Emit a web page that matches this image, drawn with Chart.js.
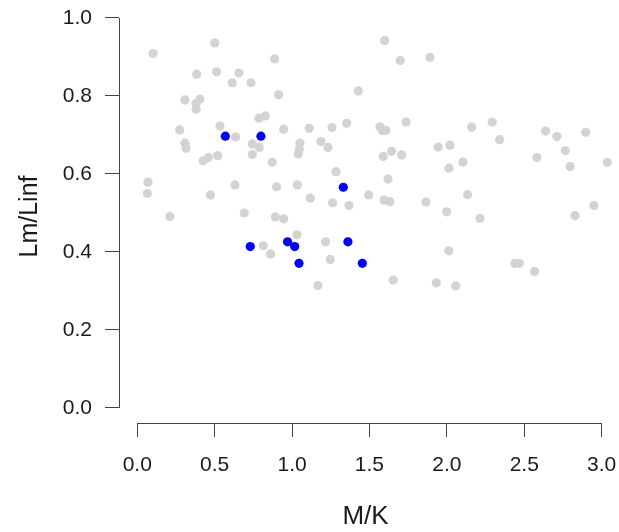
<!DOCTYPE html>
<html lang="en">
<head>
  <meta charset="UTF-8" />
  <title>Lm/Linf vs M/K</title>
  <script src="https://cdn.jsdelivr.net/npm/chart.js"></script>
  <style>
    html, body { margin: 0; padding: 0; background: #fff; }
    #wrap { width: 619px; height: 532px; }
  </style>
</head>
<body>
  <div id="wrap">
    <canvas id="grafico" width="619" height="532"></canvas>
  </div>

  <script>
    // tick labels
    const xTicks = [0, 0.5, 1.0, 1.5, 2.0, 2.5, 3.0];
    const yTicks = [0, 0.2, 0.4, 0.6, 0.8, 1.0];

    // all species (grey)
    const grayX = [
      0.500, 0.103, 0.888, 0.384, 0.513, 0.657, 0.614, 0.735, 1.428, 0.913,
      0.308, 0.405, 0.379, 0.381, 0.786, 0.827, 0.274, 0.534, 0.946, 1.111,
      1.258, 1.353, 0.636, 0.308, 0.315, 0.743, 0.788, 0.743, 1.051, 1.047,
      1.040, 1.187, 1.232, 0.426, 0.459, 0.519, 0.872, 1.284, 0.069, 0.065,
      0.472, 0.631, 0.900, 1.034, 1.118, 1.262, 1.368, 1.495, 0.211, 0.691,
      0.892, 0.946, 0.814, 0.862, 1.032, 1.217, 1.247, 1.167,
      1.598, 1.699, 1.891, 1.568, 1.585, 1.605, 1.736, 2.160, 2.293, 2.341,
      2.638, 2.711, 2.897, 2.765, 2.582, 2.797, 3.036, 1.944, 2.020, 2.104,
      2.014, 1.643, 1.589, 1.708, 1.620, 1.594, 1.632, 1.865, 2.134, 1.999,
      2.214, 2.950, 2.828, 2.012, 1.654, 1.932, 2.057, 2.440, 2.468, 2.567
    ];
    const grayY = [
      0.936, 0.909, 0.895, 0.856, 0.862, 0.859, 0.834, 0.834, 0.813, 0.803,
      0.790, 0.792, 0.781, 0.766, 0.743, 0.749, 0.713, 0.723, 0.715, 0.717,
      0.719, 0.730, 0.695, 0.679, 0.666, 0.677, 0.668, 0.650, 0.679, 0.664,
      0.651, 0.683, 0.668, 0.634, 0.642, 0.647, 0.630, 0.606, 0.579, 0.550,
      0.546, 0.572, 0.567, 0.572, 0.538, 0.526, 0.519, 0.546, 0.491, 0.500,
      0.490, 0.485, 0.416, 0.395, 0.444, 0.426, 0.381, 0.314,
      0.942, 0.891, 0.899, 0.721, 0.711, 0.712, 0.733, 0.720, 0.733, 0.688,
      0.710, 0.696, 0.707, 0.660, 0.642, 0.619, 0.630, 0.669, 0.674, 0.631,
      0.615, 0.658, 0.645, 0.649, 0.587, 0.533, 0.529, 0.528, 0.547, 0.503,
      0.486, 0.519, 0.493, 0.403, 0.328, 0.321, 0.313, 0.371, 0.371, 0.350
    ];

    // highlighted species (blue)
    const blueX = [0.569, 0.799, 1.331, 0.730, 0.971, 1.017, 1.045, 1.361, 1.454];
    const blueY = [0.697, 0.697, 0.566, 0.414, 0.426, 0.414, 0.371, 0.426, 0.371];

    const toPoints = (xs, ys) => xs.map((x, i) => ({ x: x, y: ys[i] }));

    const fuente = 'Liberation Sans, Arial, sans-serif';
    const tinta = '#1a1a1a';
    const lineaEje = '#444';

    // no extra room for overhanging tick labels: the plot box is fixed
    function sinRelleno(scale) {
      scale.paddingLeft = 0;
      scale.paddingRight = 0;
      scale.paddingTop = 0;
      scale.paddingBottom = 0;
    }

    // R-style axis lines that only run from first to last tick
    const ejesR = {
      id: 'ejesR',
      afterDraw(chart) {
        const { ctx, chartArea, scales } = chart;
        ctx.save();
        ctx.strokeStyle = lineaEje;
        ctx.lineWidth = 1;
        ctx.beginPath();
        const yb = Math.round(chartArea.bottom) + 0.5;
        ctx.moveTo(scales.x.getPixelForValue(xTicks[0]), yb);
        ctx.lineTo(scales.x.getPixelForValue(xTicks[xTicks.length - 1]), yb);
        const xl = Math.round(chartArea.left) + 0.5;
        ctx.moveTo(xl, scales.y.getPixelForValue(yTicks[0]));
        ctx.lineTo(xl, scales.y.getPixelForValue(yTicks[yTicks.length - 1]));
        ctx.stroke();
        ctx.restore();
      }
    };

    new Chart(document.getElementById('grafico'), {
      type: 'scatter',
      data: {
        datasets: [
          {
            label: 'highlighted',
            data: toPoints(blueX, blueY),
            backgroundColor: '#0000ff',
            borderWidth: 0,
            pointRadius: 4.6,
            order: 0
          },
          {
            label: 'all',
            data: toPoints(grayX, grayY),
            backgroundColor: '#d3d3d3',
            borderWidth: 0,
            pointRadius: 4.6,
            order: 1
          }
        ]
      },
      options: {
        responsive: false,
        animation: false,
        layout: { padding: { top: 10, right: 7, left: 0, bottom: 0 } },
        plugins: {
          legend: { display: false },
          tooltip: { enabled: false }
        },
        scales: {
          x: {
            type: 'linear',
            min: -0.118,
            max: 3.067,
            afterFit(scale) { scale.height = 109; sinRelleno(scale); },
            afterBuildTicks(scale) { scale.ticks = xTicks.map(v => ({ value: v })); },
            border: { display: false },
            grid: {
              drawOnChartArea: false,
              drawTicks: true,
              tickLength: 14,
              color: lineaEje
            },
            ticks: {
              padding: 16,
              color: tinta,
              font: { family: fuente, size: 21 },
              callback: v => v.toFixed(1)
            },
            title: {
              display: true,
              text: 'M/K',
              color: tinta,
              font: { family: fuente, size: 26 },
              padding: { top: 0, bottom: 0 }
            }
          },
          y: {
            type: 'linear',
            min: -0.0385,
            max: 1.0205,
            afterFit(scale) { scale.width = 119; sinRelleno(scale); },
            afterBuildTicks(scale) { scale.ticks = yTicks.map(v => ({ value: v })); },
            border: { display: false },
            grid: {
              drawOnChartArea: false,
              drawTicks: true,
              tickLength: 14,
              color: lineaEje
            },
            ticks: {
              padding: 13,
              color: tinta,
              font: { family: fuente, size: 21 },
              callback: v => v.toFixed(1)
            },
            title: {
              display: true,
              text: 'Lm/Linf',
              color: tinta,
              font: { family: fuente, size: 25 },
              padding: { top: 15, bottom: 0 }
            }
          }
        }
      },
      plugins: [ejesR]
    });
  </script>
</body>
</html>
